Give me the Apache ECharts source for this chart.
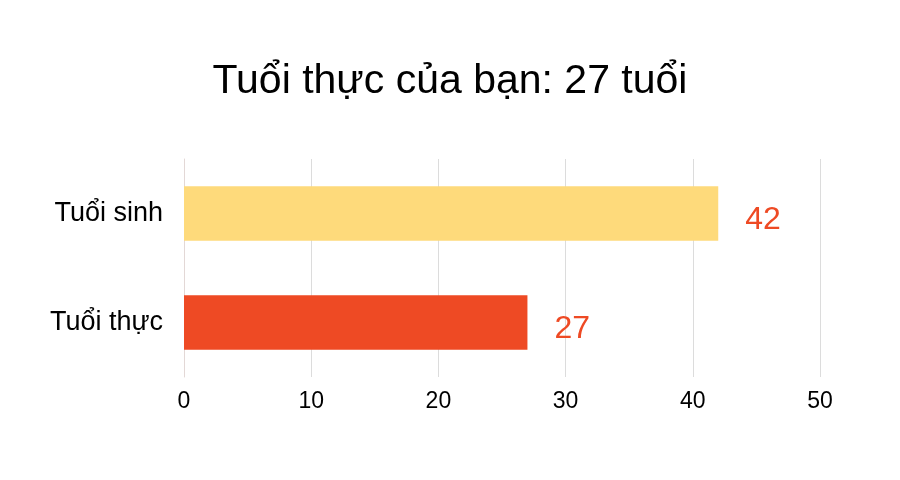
<!DOCTYPE html>
<html><head><meta charset="utf-8">
<script src="https://cdn.jsdelivr.net/npm/echarts@6/dist/echarts.min.js"></script>
<style>html,body{margin:0;padding:0;background:#fff}#c{width:900px;height:480px}</style>
</head><body><div id="c"></div>
<script>
const titleText = 'Tuổi thực của bạn: 27 tuổi';
const categories = ['Tuổi thực', 'Tuổi sinh'];
const values = [27, 42];
const barColors = ['#EE4A24', '#FEDA7B'];
const xTicks = [0, 10, 20, 30, 40, 50];

const chart = echarts.init(document.getElementById('c'));
const font = '"Liberation Sans", Arial, sans-serif';
chart.setOption({
  animation: false,
  title: { text: titleText, left: 'center', top: 56, textStyle: { fontFamily: font, fontSize: 41, fontWeight: 'normal', color: '#000' } },
  grid: { left: 184, right: 80, top: 159, bottom: 103, containLabel: false },
  xAxis: {
    type: 'value', min: xTicks[0], max: xTicks[xTicks.length - 1], interval: 10,
    axisLine: { show: false }, axisTick: { show: false },
    splitLine: { show: true, lineStyle: { color: '#dcdcdc', width: 1 } },
    axisLabel: { fontFamily: font, fontSize: 23, color: '#000', margin: 13 }
  },
  yAxis: {
    type: 'category', data: categories,
    axisLine: { show: true, lineStyle: { color: '#e3d8d6', width: 1 } }, axisTick: { show: false },
    axisLabel: { fontFamily: font, fontSize: 27, color: '#000', margin: 21 }
  },
  series: [{
    type: 'bar', barWidth: '50%',
    data: values.map((v, i) => ({ value: v, itemStyle: { color: barColors[i] } })),
    label: { show: true, position: 'right', distance: 27, offset: [0, 7], fontFamily: font, fontSize: 32, color: '#EE4A24' }
  }]
});
</script></body></html>
